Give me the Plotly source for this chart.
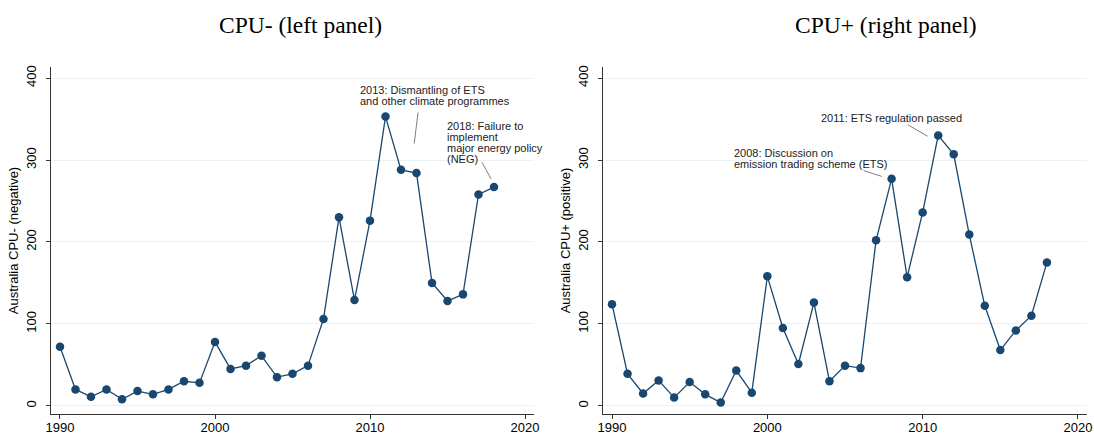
import plotly.graph_objects as go
from plotly.subplots import make_subplots

years = list(range(1990, 2019))
cpu_neg = [72, 20, 11, 20, 8, 18, 14, 20, 30, 28, 78, 45, 49, 61, 35, 39,
           49, 106, 230, 129, 226, 353, 288, 284, 150, 128, 136, 258, 267]
cpu_pos = [124, 39, 15, 31, 10, 29, 14, 4, 43, 16, 158, 95, 51, 126, 30, 49,
           46, 202, 277, 157, 236, 330, 307, 209, 122, 68, 92, 110, 175]

titles = ["CPU- (left panel)", "CPU+ (right panel)"]
ytitles = ["Australia CPU- (negative)", "Australia CPU+ (positive)"]
xticks = [1990, 2000, 2010, 2020]
yticks = [0, 100, 200, 300, 400]

# annotations: (panel, text lines, x, y_top, line start, line end)
notes = [
    (1, ["2013: Dismantling of ETS", "and other climate programmes"], 2009.29, 394, (2013.1, 358), (2012.85, 320)),
    (1, ["2018: Failure to", "implement", "major energy policy", "(NEG)"], 2014.9, 350, (2017.23, 297), (2017.81, 277)),
    (2, ["2011: ETS regulation passed"], 2003.42, 360, (2009.04, 343), (2010.32, 329)),
    (2, ["2008: Discussion on", "emission trading scheme (ETS)"], 1997.76, 317.5, (2006.2, 287), (2007.36, 280)),
]

NAVY = "#1a476f"
AX = "#333333"
W, H = 1094, 434
L, R, T, B = 51, 7, 67, H - 414
PW, PH = W - L - R, H - T - B
fig = make_subplots(rows=1, cols=2)

for i, ys in enumerate([cpu_neg, cpu_pos]):
    fig.add_trace(go.Scatter(x=years, y=ys, mode="lines+markers",
                             line=dict(color=NAVY, width=1.3),
                             marker=dict(color=NAVY, size=8.5),
                             showlegend=False), row=1, col=i + 1)

dom = [((51 - L) / PW, (534 - L) / PW), ((603 - L) / PW, (1087 - L) / PW)]
title_px = [300, 885.5]
for i in range(2):
    xa = "xaxis" if i == 0 else "xaxis2"
    ya = "yaxis" if i == 0 else "yaxis2"
    fig.layout[xa].update(domain=dom[i], range=[1989.42, 2020.58], tickvals=xticks,
                          automargin=False,
                          showgrid=False, zeroline=False, showline=True, linecolor=AX,
                          linewidth=1, ticks="outside", ticklen=4, tickcolor=AX,
                          ticklabelstandoff=-3,
                          tickfont=dict(family="Liberation Sans, Arial", size=13, color="#000000"))
    fig.layout[ya].update(domain=[0, 1], range=[-10, 413.5], tickvals=yticks,
                          automargin=False,
                          showgrid=True, gridcolor="#eaf2f3", gridwidth=1, zeroline=False,
                          showline=True, linecolor=AX, linewidth=1,
                          ticks="outside", ticklen=4, tickcolor=AX, tickangle=-90,
                          ticklabelstandoff=5,
                          tickfont=dict(family="Liberation Sans, Arial", size=13, color="#000000"),
                          title=dict(text=ytitles[i], standoff=2,
                                     font=dict(family="Liberation Sans, Arial", size=13, color="#000000")))
    fig.add_annotation(text=titles[i], xref="paper", yref="paper",
                       x=(title_px[i] - L) / PW, y=(H - B - 25) / PH,
                       xanchor="center", yanchor="middle", showarrow=False,
                       font=dict(family="Liberation Serif, Times New Roman", size=23.5, color="#000000"))

for panel, lines, x, ytop, p0, p1 in notes:
    xr = "x" if panel == 1 else "x2"
    yr = "y" if panel == 1 else "y2"
    for k, t in enumerate(lines):
        fig.add_annotation(text=t, xref=xr, yref=yr, x=x, y=ytop - k * 11 / 0.821,
                           xanchor="left", yanchor="top", showarrow=False, align="left",
                           borderpad=0,
                           font=dict(family="Liberation Sans, Arial", size=11, color="#222222"))
    fig.add_shape(type="line", xref=xr, yref=yr, x0=p0[0], y0=p0[1], x1=p1[0], y1=p1[1],
                  line=dict(color="#7f7f7f", width=1))

fig.update_layout(width=W, height=H, margin=dict(l=L, r=R, t=T, b=B),
                  plot_bgcolor="white", paper_bgcolor="white")
fig.write_html("out.html", config={"displayModeBar": False},
               post_script="document.body.style.margin='0';document.body.style.overflow='hidden';")
